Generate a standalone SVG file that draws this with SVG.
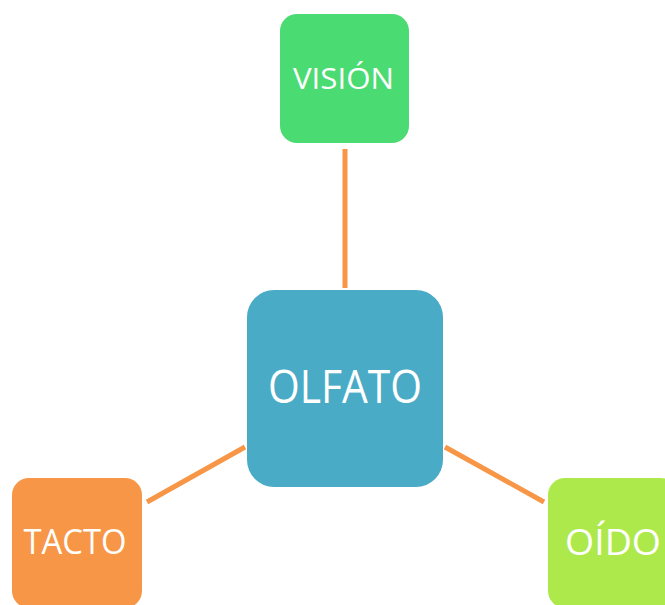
<svg xmlns="http://www.w3.org/2000/svg" width="665" height="605" viewBox="0 0 665 605">
  <style>
    .link { stroke: #F79646; stroke-width: 5; fill: none; }
    .label { fill: #FFFFFF; font-family: "Open Sans", "Liberation Sans", sans-serif; text-anchor: middle; }
  </style>
  <rect width="665" height="605" fill="#FFFFFF"/>
  <g id="connectors">
    <line class="link" x1="345" y1="149" x2="345" y2="288"/>
    <line class="link" x1="245" y1="447" x2="147" y2="502"/>
    <line class="link" x1="445" y1="447" x2="544" y2="502"/>
  </g>
  <g id="vision">
    <rect x="280" y="14" width="129" height="129" rx="17" fill="#4ADB72"/>
    <text class="label" x="343.5" y="89" font-size="30" textLength="101" lengthAdjust="spacingAndGlyphs">VISIÓN</text>
  </g>
  <g id="olfato">
    <rect x="247" y="290" width="196" height="197" rx="27" fill="#4AABC6"/>
    <text class="label" x="345" y="403" font-size="46" textLength="154" lengthAdjust="spacingAndGlyphs">OLFATO</text>
  </g>
  <g id="tacto">
    <rect x="12" y="478" width="130" height="130" rx="17" fill="#F79646"/>
    <text class="label" x="75" y="554" font-size="35" textLength="103" lengthAdjust="spacingAndGlyphs">TACTO</text>
  </g>
  <g id="oido">
    <rect x="548" y="478" width="130" height="130" rx="17" fill="#AEE94B"/>
    <text class="label" x="613" y="555" font-size="37" textLength="96" lengthAdjust="spacingAndGlyphs">OÍDO</text>
  </g>
</svg>
